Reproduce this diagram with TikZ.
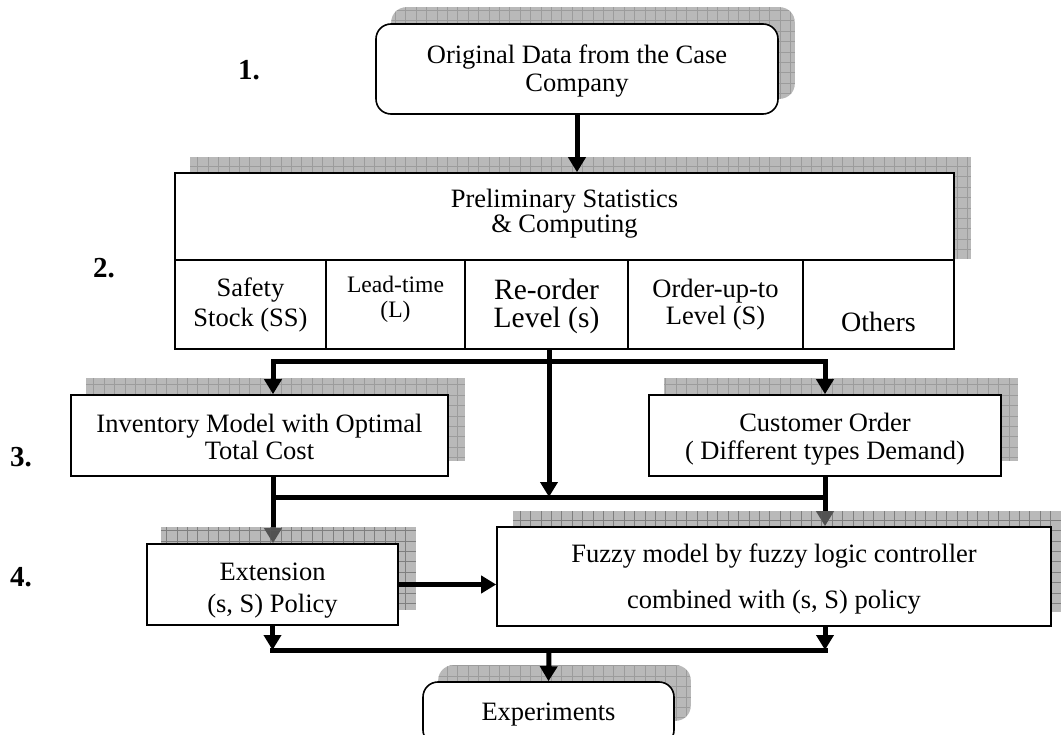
\documentclass[tikz,border=0pt]{standalone}
\usepackage{fontspec}
\setmainfont{Liberation Serif}
\usetikzlibrary{arrows.meta}
\pgfdeclarelayer{bg}
\pgfdeclarelayer{mid}
\pgfdeclarelayer{shad}
\pgfsetlayers{bg,mid,shad,main}
\tikzset{
  fs/.style 2 args={font=\fontsize{#1}{#2}\selectfont},
  box/.style={draw, line width=1.6pt, fill=white, inner sep=0pt, align=center},
  shadowfill/.style={fill=gray!55, path picture={\draw[gray!78, line width=0.6pt, step=10.4pt] (path picture bounding box.south west) grid (path picture bounding box.north east);}},
  shadowtop/.style={fill=gray!92, fill opacity=0.6, path picture={\draw[black!65, draw opacity=0.6, line width=0.6pt, step=10.4pt] (path picture bounding box.south west) grid (path picture bounding box.north east);}},
  arr/.style={line width=5pt, -{Triangle[length=15pt,width=17pt]}},
  busline/.style={line width=5pt, line cap=rect},
  joinline/.style={line width=5pt, line join=miter},
  num/.style={font=\fontsize{29}{29}\selectfont\bfseries, inner sep=0pt, anchor=base}
}
\begin{document}
\begin{tikzpicture}[x=1pt,y=-1pt]
\useasboundingbox (0,0) rectangle (1061,735);

% boxes
\node[box, rounded corners=15pt, minimum width=402pt, minimum height=90pt, fs={26.5}{28}, text height=46pt, text depth=0pt] (top) at (577,69) {Original Data from the Case\\Company};
\node[box, minimum width=779pt, minimum height=87pt, fs={26.5}{25}, text height=33pt, text depth=0pt] (hdr) at (564.5,216.5) {Preliminary Statistics\\\& Computing};
\node[box, minimum width=151pt, minimum height=89pt, fs={26.5}{30}, text height=45pt, text depth=0pt] (c1) at (250.5,304.5) {Safety\\Stock (SS)};
\node[box, minimum width=139pt, minimum height=89pt, fs={23.6}{25}, text height=27pt, text depth=0pt] (c2) at (395.5,304.5) {Lead-time\\(L)};
\node[box, minimum width=163pt, minimum height=89pt, fs={29.5}{28}, text height=47pt, text depth=0pt] (c3) at (546.5,304.5) {Re-order\\Level (s)};
\node[box, minimum width=175pt, minimum height=89pt, fs={26.5}{27}, text height=41pt, text depth=0pt] (c4) at (715.5,304.5) {Order-up-to\\Level (S)};
\node[box, minimum width=151pt, minimum height=89pt, fs={28}{28}, text height=55pt, text depth=0pt] (c5) at (878.5,304.5) {Others};
\node[box, minimum width=377pt, minimum height=81pt, fs={26.5}{28}, text height=49pt, text depth=0pt] (inv) at (259.5,435.5) {Inventory Model with Optimal\\Total Cost};
\node[box, minimum width=352pt, minimum height=81pt, fs={26.5}{28}, text height=47pt, text depth=0pt] (cust) at (825,435.5) {Customer Order\\( Different types Demand)};
\node[box, minimum width=251pt, minimum height=81pt, fs={26.5}{32}, text height=55pt, text depth=0pt] (ext) at (272.5,584.5) {Extension\\(s, S) Policy};
\node[box, minimum width=554pt, minimum height=99pt, fs={26.5}{46}, text height=63pt, text depth=0pt] (fz) at (774,576.5) {Fuzzy model by fuzzy logic controller\\combined with (s, S) policy};
\node[box, rounded corners=15pt, minimum width=251pt, minimum height=63pt, fs={26.5}{28}, text height=13pt, text depth=0pt] (exp) at (548.5,713.5) {Experiments};

% step numbers
\node[num] (n1) at (249,80) {1.};
\node[num] (n2) at (104,278) {2.};
\node[num] (n3) at (21,466) {3.};
\node[num] (n4) at (21,586) {4.};

% shadows
\begin{pgfonlayer}{bg}
\path[shadowfill, rounded corners=15pt] ([shift={(16,-16)}]top.south west) rectangle ([shift={(16,-16)}]top.north east);
\path[shadowfill] ([shift={(16,-15)}]hdr.north west) rectangle ([shift={(16,-2)}]hdr.south east);
\path[shadowfill] ([shift={(16,-16)}]inv.south west) rectangle ([shift={(16,-16)}]inv.north east);
\path[shadowfill] ([shift={(16,-16)}]cust.south west) rectangle ([shift={(16,-16)}]cust.north east);
\path[shadowfill, rounded corners=15pt] ([shift={(16,-16)}]exp.north west) rectangle ([shift={(16,-25)}]exp.south east);
\end{pgfonlayer}
\begin{pgfonlayer}{shad}
\path[shadowtop] ([shift={(15,-16)}]ext.south west) rectangle ([shift={(17,-16)}]ext.north east);
\path[shadowtop] ([shift={(17,-15)}]fz.south west) rectangle ([shift={(17,-15)}]fz.north east);
\end{pgfonlayer}

% junction points
\coordinate (ja) at (549,362);
\coordinate (jal) at (273,362);
\coordinate (jar) at (825,362);
\coordinate (jb) at (549,497);
\coordinate (jbl) at (273,497);
\coordinate (jbr) at (825,497);
\coordinate (jc) at (549,650);
\coordinate (jcl) at (272.5,650);
\coordinate (jcr) at (825,650);

% connectors
\draw[arr] (top.south) -- (top.south |- hdr.north);
\draw[busline] (jal) -- (jar);
\draw[arr] (c3.south -| ja) -- (jb);
\draw[arr] (jal) -- (jal |- inv.north);
\draw[arr] (jar) -- (jar |- cust.north);
\draw[joinline] (inv.south -| jbl) -- (jbl) -- (jbr) -- (cust.south -| jbr);
\begin{pgfonlayer}{mid}
\draw[arr] (jbl) -- (jbl |- ext.north);
\draw[arr] (jbr) -- (jbr |- fz.north);
\end{pgfonlayer}
\draw[arr] (ext.east) -- (ext.east -| fz.west);
\draw[arr] (ext.south) -- (ext.south |- jc);
\draw[arr] (fz.south -| jcr) -- (jcr);
\draw[busline] (jcl) -- (jcr);
\draw[arr] (jc) -- (exp.north);
\end{tikzpicture}
\end{document}
